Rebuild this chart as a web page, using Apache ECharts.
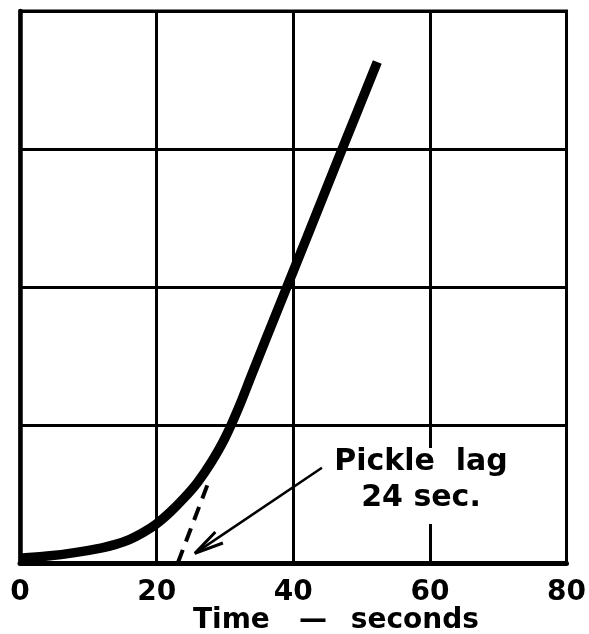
<!DOCTYPE html>
<html>
<head>
<meta charset="utf-8">
<script src="https://cdn.jsdelivr.net/npm/echarts@6/dist/echarts.min.js"></script>
<style>html,body{margin:0;padding:0;background:#fff;}#c{width:589px;height:634px;}</style>
</head>
<body>
<div id="c"></div>
<script>
// Time (s) and relative value (grid units) of the main curve
const curveTime  = [0, 4, 8, 12, 14, 16, 18, 20, 22, 24, 26, 28, 30, 32, 34, 38, 42, 47, 52.3];
const curveValue = [0.035, 0.05, 0.075, 0.11, 0.135, 0.17, 0.22, 0.285, 0.37, 0.47, 0.585, 0.73, 0.905, 1.125, 1.375, 1.87, 2.36, 2.98, 3.63];
// Dashed tangent line (extrapolation to zero)
const tangentTime  = [23.1, 27.7];
const tangentValue = [0, 0.6];
// Annotation arrow (shaft and open head), in data units
const arrowShaftTime  = [44.2, 25.6];
const arrowShaftValue = [0.69, 0.07];
const arrowHeadTime   = [28.6, 25.6, 29.7];
const arrowHeadValue  = [0.225, 0.07, 0.145];
const xTicks = [0, 20, 40, 60, 80];
const xTitle = 'Time   —\u2002 seconds';
const noteText = 'Pickle  lag\n24 sec.';

const zip = (a, b) => a.map((v, i) => [v, b[i]]);
const FONT = '"DejaVu Sans", sans-serif';

const chart = echarts.init(document.getElementById('c'));
chart.setOption({
  animation: false,
  backgroundColor: '#fff',
  grid: { left: 20, right: 20, top: 11, bottom: 71, show: true, borderColor: '#000', borderWidth: 3 },
  xAxis: {
    type: 'value', min: xTicks[0], max: xTicks[xTicks.length - 1], interval: 20,
    axisLine: { show: true, lineStyle: { color: '#000', width: 5 } },
    axisTick: { show: false },
    axisLabel: { color: '#000', fontSize: 28, fontWeight: 'bold', fontFamily: FONT, margin: 16 },
    splitLine: { show: true, lineStyle: { color: '#000', width: 3 } }
  },
  yAxis: {
    type: 'value', min: 0, max: 4, interval: 1,
    axisLine: { show: true, lineStyle: { color: '#000', width: 4.5 } },
    axisTick: { show: false },
    axisLabel: { show: false },
    splitLine: { show: true, lineStyle: { color: '#000', width: 3 } }
  },
  series: [
    {
      type: 'line', data: zip(curveTime, curveValue), smooth: 0.3, symbol: 'none',
      lineStyle: { color: '#000', width: 9.5, cap: 'butt' }, z: 5
    },
    {
      type: 'line', data: zip(tangentTime, tangentValue), symbol: 'none',
      lineStyle: { color: '#000', width: 4, type: [14, 9] }, z: 4
    },
    {
      type: 'line', data: zip(arrowShaftTime, arrowShaftValue), symbol: 'none',
      lineStyle: { color: '#000', width: 2.5 }, z: 4
    },
    {
      type: 'line', data: zip(arrowHeadTime, arrowHeadValue), symbol: 'none',
      lineStyle: { color: '#000', width: 3 }, z: 4
    }
  ],
  graphic: [
    {
      type: 'text', x: 421, y: 448, z: 10,
      style: {
        text: noteText, fill: '#000', font: 'bold 30px ' + FONT, align: 'center', verticalAlign: 'top',
        lineHeight: 36, backgroundColor: '#fff', padding: [-4, 6, 8, 6]
      }
    },
    {
      type: 'text', x: 193, y: 621, z: 10,
      style: {
        text: xTitle, fill: '#000', font: 'bold 28px ' + FONT, align: 'left', verticalAlign: 'middle'
      }
    }
  ]
});
</script>
</body>
</html>
